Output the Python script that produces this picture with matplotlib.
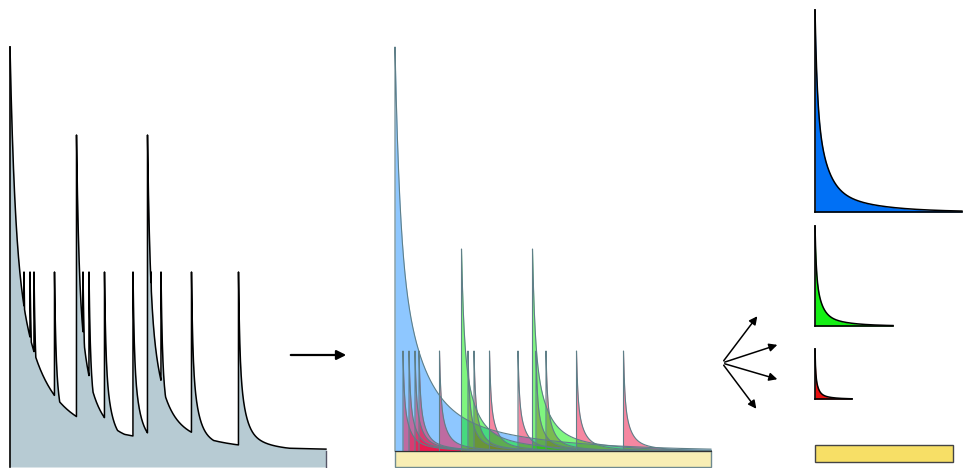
import numpy as np
import matplotlib.pyplot as plt
from matplotlib.patches import Rectangle

# event times (px along the time axis) for each kernel type
blue_times = [0.0]
green_times = [66.5, 137.5]
red_times = [8, 14, 20, 24, 44.5, 73, 79, 94.5, 123, 141, 151, 181.5, 228.5]

kernel_names = ['blue', 'green', 'red']
left_heights = [404, 316, 179]     # summed trace (left)
mid_heights = [404, 202, 100]      # decomposed kernels (middle)
right_heights = [202, 100, 50]     # kernel templates (right)
time_scales = [316, 158, 79]
right_widths = [147, 78, 37]


def kernel(dt, T):
    # fast spike followed by a slow tail
    u = np.clip(dt, 0, None) / T
    k = 0.45 * np.exp(-u / 0.015) + 0.42 * np.exp(-u / 0.07) + 0.13 * np.exp(-u / 0.3)
    return np.where(dt >= 0, k, 0.0)


all_times = [blue_times, green_times, red_times]
fill_alpha = {'blue': '#1e90ff', 'green': '#00ee00', 'red': '#ee1144'}
solid = {'blue': '#0070f5', 'green': '#14f014', 'red': '#e81010'}

fig = plt.figure(figsize=(9.63, 4.68), dpi=100)
ax = fig.add_axes([0, 0, 1, 1])
ax.set_xlim(0, 963)
ax.set_ylim(468, 0)
ax.axis('off')

t = np.arange(0, 316, 0.05)

# left panel: envelope of all events
env = np.zeros_like(t)
for times, h, T in zip(all_times, left_heights, time_scales):
    for ti in times:
        env = np.maximum(env, h * kernel(t - ti, T))
xl = 10 + t
yl = 451 - env
ax.fill_between(xl, yl, 467, color='#b7cbd3', lw=0)
ax.plot(xl, yl, color='black', lw=1.1)
ax.plot([10, 10], [47, 467], color='black', lw=1.2)
ax.plot([326, 326], [451, 467], color='#556', lw=1)

# arrow
ax.annotate('', xy=(349, 355), xytext=(288, 355),
            arrowprops=dict(arrowstyle='-|>', color='black', lw=1.6, mutation_scale=14))

# middle panel: individual kernels
ax.add_patch(Rectangle((395, 451), 316, 16, facecolor='#f8eeb4', edgecolor='#6f8a8f', lw=1))
for name in ['blue', 'red', 'green']:
    i = kernel_names.index(name)
    for ti in all_times[i]:
        tt = t[t >= ti]
        yk = 451 - mid_heights[i] * kernel(tt - ti, time_scales[i])
        xs = np.concatenate([[395 + ti], 395 + tt])
        ys = np.concatenate([[451], yk])
        ax.fill_between(xs, ys, 451, color=fill_alpha[name], alpha=0.5, lw=0)
        ax.plot(xs, ys, color='#5f7f88', lw=0.8)
ax.plot([395, 711], [451, 451], color='#333', lw=0.8)

# fan of arrows
for tip in [(759, 314), (780, 344), (780, 380), (758, 411)]:
    ax.annotate('', xy=tip, xytext=(722, 363),
                arrowprops=dict(arrowstyle='-|>', color='black', lw=1.1, mutation_scale=12))

# right panel: kernel templates
right_bases = [212, 326, 399]
for i, name in enumerate(kernel_names):
    w = right_widths[i]
    base = right_bases[i]
    tr = np.arange(0, w, 0.05)
    yr = base - right_heights[i] * kernel(tr, w)
    ax.fill_between(815 + tr, yr, base, color=solid[name], lw=0)
    ax.plot(815 + tr, yr, color='black', lw=1.1)
    ax.plot([815, 815], [base, base - right_heights[i]], color='black', lw=1.2)
    ax.plot([815, 815 + w], [base, base], color='black', lw=1.2)

ax.add_patch(Rectangle((815, 445), 138, 17, facecolor='#f7df66', edgecolor='#444', lw=1))

fig.savefig('out.png', dpi=100)
